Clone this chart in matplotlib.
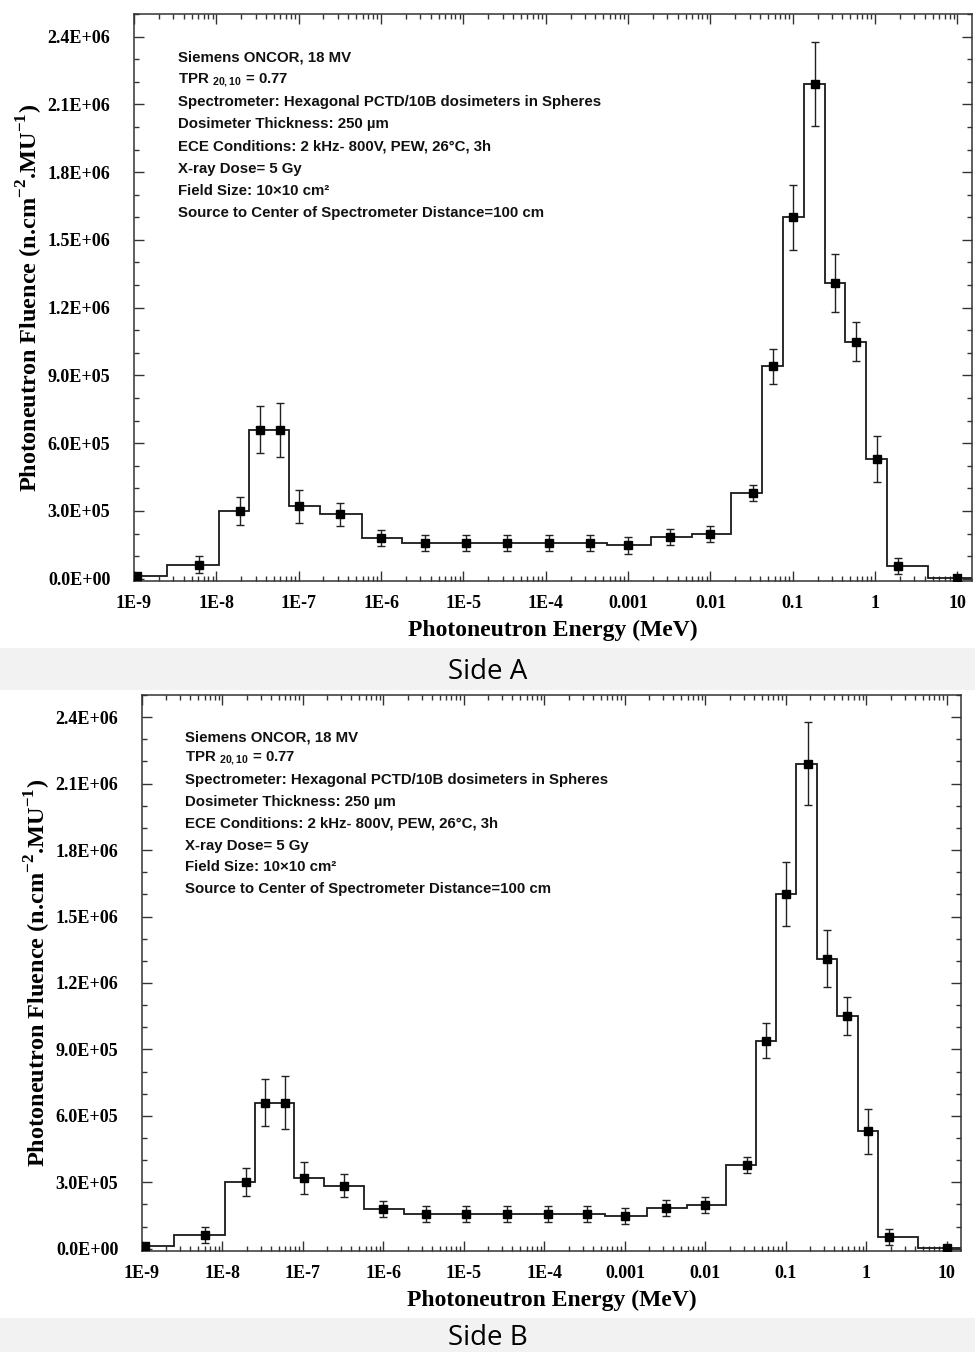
import matplotlib
matplotlib.use("Agg")
import matplotlib.pyplot as plt
from matplotlib.patches import Rectangle
from matplotlib.ticker import FixedLocator, FixedFormatter, MultipleLocator, FuncFormatter, LogLocator, NullFormatter
import numpy as np

plt.rcParams['mathtext.fontset'] = 'custom'
plt.rcParams['mathtext.rm'] = 'Liberation Serif:bold'
plt.rcParams['mathtext.sf'] = 'Liberation Sans:bold'

# Measured photoneutron spectrum (energy in MeV, fluence in n.cm^-2.MU^-1)
energy = [1.1e-9, 6.1e-9, 1.95e-8, 3.4e-8, 5.9e-8, 1.02e-7, 3.2e-7, 1.0e-6,
          3.4e-6, 1.07e-5, 3.4e-5, 1.1e-4, 3.4e-4, 1.0e-3, 3.2e-3, 1.0e-2,
          3.25e-2, 5.7e-2, 0.1, 0.186, 0.328, 0.583, 1.05, 1.9, 10.0]
fluence = [1.2e4, 6.2e4, 3.0e5, 6.6e5, 6.6e5, 3.2e5, 2.85e5, 1.8e5,
           1.58e5, 1.58e5, 1.58e5, 1.58e5, 1.58e5, 1.48e5, 1.85e5, 1.97e5,
           3.8e5, 9.4e5, 1.6e6, 2.19e6, 1.31e6, 1.05e6, 5.3e5, 5.5e4, 4e3]
fluence_err = [0, 3.7e4, 6.3e4, 1.05e5, 1.2e5, 7.2e4, 5.2e4, 3.7e4,
               3.7e4, 3.7e4, 3.7e4, 3.7e4, 3.7e4, 3.7e4, 3.7e4, 3.6e4,
               3.6e4, 7.9e4, 1.44e5, 1.87e5, 1.28e5, 8.7e4, 1.0e5, 3.6e4, 0]
# Energy-bin boundaries of the unfolded spectrum (MeV)
bin_edges = [1e-9, 2.5e-9, 1.08e-8, 2.52e-8, 4.5e-8, 7.7e-8, 1.82e-7, 5.8e-7,
             1.8e-6, 5.8e-6, 1.8e-5, 5.8e-5, 1.8e-4, 5.6e-4, 1.88e-3, 5.9e-3,
             0.0178, 0.0424, 0.076, 0.135, 0.243, 0.436, 0.777, 1.39, 4.4, 15.0]

decade_ticks = [1e-9, 1e-8, 1e-7, 1e-6, 1e-5, 1e-4, 1e-3, 1e-2, 1e-1, 1, 10]
decade_labels = ['1E-9', '1E-8', '1E-7', '1E-6', '1E-5', '1E-4', '0.001',
                 '0.01', '0.1', '1', '10']

info_lines = [
    "Siemens ONCOR, 18 MV",
    r"TPR $\mathsf{_{20,10}}$ = 0.77",
    "Spectrometer: Hexagonal PCTD/10B dosimeters in Spheres",
    "Dosimeter Thickness: 250 µm",
    "ECE Conditions: 2 kHz- 800V, PEW, 26°C, 3h",
    "X-ray Dose= 5 Gy",
    "Field Size: 10×10 cm²",
    "Source to Center of Spectrometer Distance=100 cm",
]
panel_names = ["Side A", "Side B"]

W, H = 975, 1352
fig = plt.figure(figsize=(W / 100, H / 100), dpi=100)
fig.patch.set_facecolor('white')


def px_axes(left, top, right, bottom):
    return fig.add_axes([left / W, 1 - bottom / H, (right - left) / W, (bottom - top) / H])


serif = dict(family='Liberation Serif', weight='bold')
line_col = '#1a1a1a'


def draw_panel(ax, text_x, text_y0, text_dy):
    ax.stairs(fluence, bin_edges, baseline=None, color=line_col, lw=1.3, zorder=2)
    ax.errorbar(energy, fluence, yerr=fluence_err, fmt='s', color='black',
                ms=6, ecolor='#222222', elinewidth=1.0, capsize=3.2, capthick=1.0,
                zorder=3, clip_on=True)
    ax.set_xscale('log')
    ax.set_xlim(1e-9, 15)
    ax.set_ylim(-1e4, 2.5e6)
    ax.xaxis.set_major_locator(FixedLocator(decade_ticks))
    ax.xaxis.set_major_formatter(FixedFormatter(decade_labels))
    ax.xaxis.set_minor_locator(LogLocator(base=10, subs=np.arange(2, 10), numticks=30))
    ax.xaxis.set_minor_formatter(NullFormatter())
    ax.yaxis.set_major_locator(FixedLocator(np.arange(0, 2.41e6, 3e5)))
    ax.yaxis.set_minor_locator(MultipleLocator(1e5))
    ax.yaxis.set_major_formatter(FuncFormatter(lambda v, p: f"{v:.1E}"))
    ax.tick_params(which='both', direction='in', top=True, right=True,
                   color='#333333', width=1.0)
    ax.tick_params(which='major', length=7)
    ax.tick_params(which='minor', length=3.5)
    ax.tick_params(axis='x', which='major', pad=10)
    ax.tick_params(axis='y', which='major', pad=17)
    for lab in ax.get_xticklabels() + ax.get_yticklabels():
        lab.set_fontfamily('Liberation Serif')
        lab.set_fontweight('bold')
        lab.set_fontsize(13)
    for s in ax.spines.values():
        s.set_linewidth(1.1)
        s.set_color('#333333')
    ax.set_xlabel('Photoneutron Energy (MeV)', fontsize=17, labelpad=6, **serif)
    ax.set_ylabel(r'Photoneutron Fluence (n.cm$^{-2}$.MU$^{-1}$)', fontsize=17.5,
                  labelpad=2, **serif)
    for i, line in enumerate(info_lines):
        ax.text(text_x, text_y0 + i * text_dy, line, transform=ax.transAxes,
                fontsize=10.8, family='Liberation Sans', weight='bold',
                ha='left', va='center', color='#111111')


ax_a = px_axes(134, 14, 972, 581)
draw_panel(ax_a, (178 - 134) / (972 - 134), 1 - (58 - 14) / 567, -22.1 / 567)

ax_b = px_axes(142, 695, 961, 1251)
draw_panel(ax_b, (185 - 142) / (961 - 142), 1 - (737 - 695) / 556, -21.7 / 556)

# Caption bands under each panel
bands = [(648, 690), (1318, 1352)]
for (y0, y1), name in zip(bands, panel_names):
    fig.patches.append(Rectangle((0, 1 - y1 / H), 1, (y1 - y0) / H,
                                 transform=fig.transFigure, facecolor='#f2f2f2',
                                 edgecolor='none', zorder=0))
    fig.text(0.5, 1 - ((y0 + y1) / 2) / H - 0.002, name, ha='center', va='center',
             fontsize=20, family='Open Sans', color='#000000')

fig.savefig('out.png', dpi=100)
